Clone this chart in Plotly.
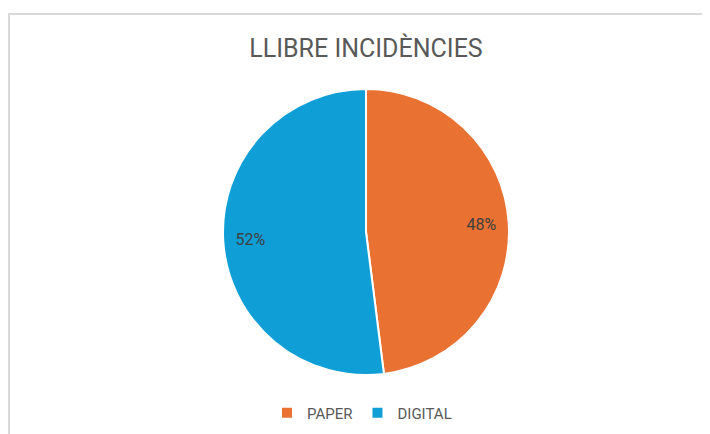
import plotly.graph_objects as go

labels = ["PAPER", "DIGITAL"]
values = [48, 52]
colors = ["#E97132", "#0F9ED5"]

# page is drawn with an 8px body offset, so the figure is a bit smaller than the window
W, H = 702, 426
cx, cy, R = 358, 224, 143
dom = dict(x=[(cx - R) / W, (cx + R) / W], y=[1 - (cy + R) / H, 1 - (cy - R) / H])

fig = go.Figure()
fig.add_trace(go.Pie(
    labels=labels, values=values, sort=False, direction="clockwise", rotation=0,
    marker=dict(colors=colors, line=dict(color="white", width=2)),
    textinfo="none", domain=dom, hoverinfo="label+percent",
))
# transparent ring on top only to push the percentage labels outward like Excel does
fig.add_trace(go.Pie(
    labels=labels, values=values, sort=False, direction="clockwise", rotation=0, hole=0.62,
    marker=dict(colors=["rgba(0,0,0,0)"] * 2, line=dict(width=0)),
    textinfo="percent", textposition="inside", insidetextorientation="horizontal",
    textfont=dict(family="Roboto, Arial", size=16, color="#404040"),
    domain=dom, hoverinfo="skip", showlegend=False,
))

fig.update_layout(
    width=W, height=H, paper_bgcolor="white", plot_bgcolor="white",
    margin=dict(t=0, b=0, l=0, r=0),
    title=dict(text="LLIBRE INCIDÈNCIES", x=cx / W, xanchor="center", y=1 - 40.5 / H, yanchor="middle",
               font=dict(family="Roboto, Arial", size=25, color="#595959")),
    showlegend=True,
    legend=dict(orientation="h", x=(cx - 4) / W, xanchor="center", y=1 - 405 / H, yanchor="middle",
                font=dict(family="Roboto, Arial", size=15, color="#595959"), itemwidth=30),
    shapes=[dict(type="rect", xref="paper", yref="paper", x0=1 / W, x1=1.05, y0=-0.05, y1=1 - 6 / H,
                 line=dict(color="#d9d9d9", width=2), fillcolor="rgba(0,0,0,0)", layer="below")],
)

fig.write_html("out.html")
